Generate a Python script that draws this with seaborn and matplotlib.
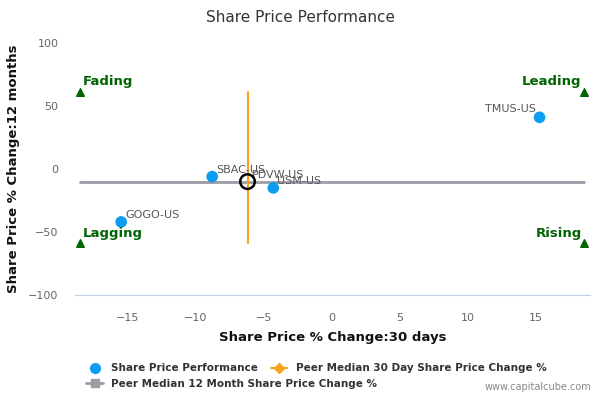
import numpy as np
import pandas as pd
import seaborn as sns
import matplotlib.pyplot as plt
from matplotlib.lines import Line2D

# dane
tickers = ["TMUS-US", "SBAC-US", "USM-US", "GOGO-US"]
chg_30d = [15.3, -8.8, -4.3, -15.5]
chg_12m = [41, -6, -15, -42]

peer_name = "PDVW-US"
peer_30d = -6.2
peer_12m = -10

quadrants = ["Fading", "Leading", "Lagging", "Rising"]
quad_x = [-18.5, 18.6, -18.5, 18.6]
quad_y = [61, 61, -59, -59]

df = pd.DataFrame({"ticker": tickers, "x": chg_30d, "y": chg_12m})

sns.set_style("white")
plt.rcParams['font.family'] = ['DejaVu Sans']

fig = plt.figure(figsize=(6, 4), dpi=100)
ax = fig.add_axes([0.125, 0.2625, 0.858, 0.63])

# linie mediany
ax.plot([quad_x[0], quad_x[1]], [peer_12m, peer_12m], color="#9a9ca6", lw=2, zorder=1)
ax.plot([peer_30d, peer_30d], [quad_y[2], quad_y[0]], color="#f7a21b", lw=1.5, zorder=2)

sns.scatterplot(data=df, x="x", y="y", ax=ax, color="#0a9df0", s=70,
                edgecolor="none", zorder=3, legend=False)
ax.scatter([peer_30d], [peer_12m], s=110, facecolor="none", edgecolor="black",
           linewidth=1.8, zorder=4)

for t, x, y in zip(tickers, chg_30d, chg_12m):
    if t == "TMUS-US":
        ax.text(x - 0.3, y + 3, t, ha="right", va="bottom", fontsize=8, color="#555555")
    else:
        ax.text(x + 0.3, y + 1.5, t, ha="left", va="bottom", fontsize=8, color="#555555")
ax.text(peer_30d + 0.3, peer_12m + 1, peer_name, ha="left", va="bottom", fontsize=8, color="#555555")

# ćwiartki
for q, x, y in zip(quadrants, quad_x, quad_y):
    ax.scatter([x], [y], marker="^", color="#006400", s=30, zorder=3)
    ha = "left" if x < 0 else "right"
    ax.text(x + (0.2 if x < 0 else -0.2), y + 3, q, ha=ha, va="bottom",
            fontsize=9.5, fontweight="bold", color="#006400")

ax.set_xlim(-18.9, 19.0)
ax.set_ylim(-100, 100)
ax.set_xticks([-15, -10, -5, 0, 5, 10, 15])
ax.set_yticks([-100, -50, 0, 50, 100])
ax.tick_params(axis="x", colors="#666666", labelsize=8, length=5, color="#c0d0e0", direction="out", pad=8)
ax.tick_params(axis="y", colors="#666666", labelsize=8, length=0, pad=12)
for s in ["top", "right", "left"]:
    ax.spines[s].set_visible(False)
ax.spines["bottom"].set_color("#c0d0e0")

ax.set_xlabel("Share Price % Change:30 days", fontsize=9.5, fontweight="bold", labelpad=6, color="#111111")
ax.set_ylabel("Share Price % Change:12 months", fontsize=9.5, fontweight="bold", labelpad=6, color="#111111")
fig.suptitle("Share Price Performance", fontsize=11, color="#333333", y=0.975)

h_perf = Line2D([], [], marker="o", color="#0a9df0", ls="none", markersize=7)
h_12m = Line2D([], [], marker="s", color="#9a9ca6", lw=2, markersize=6)
h_30d = Line2D([], [], marker="D", color="#f7a21b", lw=1.5, markersize=5)

leg_kw = dict(frameon=False, prop={"size": 7.5, "weight": "bold"}, handlelength=1.6,
              borderpad=0, handletextpad=0.8, loc="upper left")
leg1 = fig.legend([h_perf, h_30d], ["Share Price Performance",
                                    "Peer Median 30 Day Share Price Change %"],
                  ncol=2, columnspacing=1.2, bbox_to_anchor=(0.135, 0.105), **leg_kw)
leg2 = fig.legend([h_12m], ["Peer Median 12 Month Share Price Change %"],
                  bbox_to_anchor=(0.135, 0.066), **leg_kw)
for lg in (leg1, leg2):
    for t in lg.get_texts():
        t.set_color("#333333")

fig.text(0.985, 0.02, "www.capitalcube.com", ha="right", va="bottom", fontsize=7, color="#888888")

plt.savefig("out.png", dpi=100)
